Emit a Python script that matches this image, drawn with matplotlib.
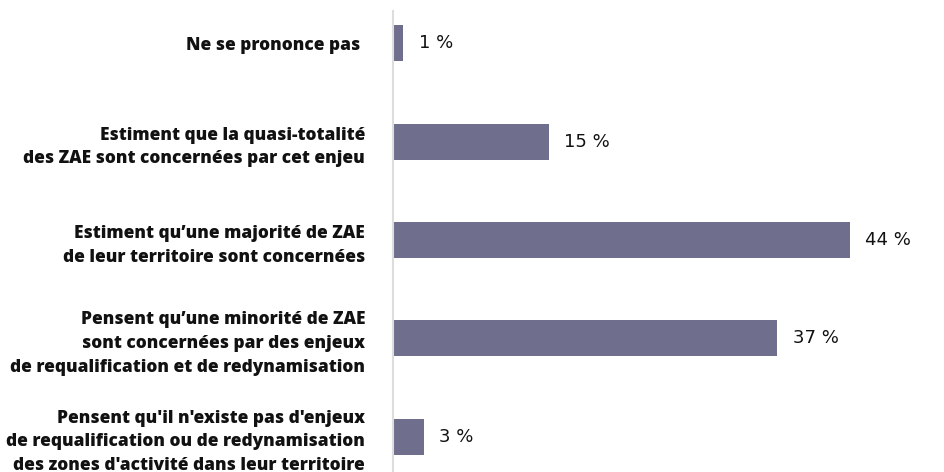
import matplotlib
matplotlib.use("Agg")
import matplotlib.pyplot as plt

# survey answers, top to bottom
categories = [
    "Ne se prononce pas ",
    "Estiment que la quasi-totalité\ndes ZAE sont concernées par cet enjeu",
    "Estiment qu\u2019une majorité de ZAE\nde leur territoire sont concernées",
    "Pensent qu\u2019une minorité de ZAE\nsont concernées par des enjeux\nde requalification et de redynamisation",
    "Pensent qu'il n'existe pas d'enjeux\nde requalification ou de redynamisation\ndes zones d'activité dans leur territoire",
]
values = [1, 15, 44, 37, 3]

bar_color = "#6f6e8c"

fig = plt.figure(figsize=(9.44, 4.72), dpi=100)
ax = fig.add_axes([393 / 944, 0.0, 519.5 / 944, 461 / 472])

pos = list(range(len(values)))
ax.barh(pos, values, height=0.365, color=bar_color)

for p, v in zip(pos, values):
    ax.annotate(f"{v} %", (v, p), xytext=(11, 0), textcoords="offset points",
                va="center", ha="left", fontsize=13, family="DejaVu Sans",
                color="#111111")

ax.set_xlim(0, 50)
ax.set_ylim(4.36, -0.33)
ax.set_yticks(pos)
ax.set_yticklabels(categories, fontsize=12.4, fontweight="heavy", family="Open Sans",
                   color="#111111", linespacing=1.52)
ax.tick_params(axis="y", length=0, pad=20)
ax.set_xticks([])

for s in ["top", "right", "bottom"]:
    ax.spines[s].set_visible(False)
ax.spines["left"].set_color("#dddddd")
ax.spines["left"].set_linewidth(1.5)

fig.savefig("out.png", dpi=100)
